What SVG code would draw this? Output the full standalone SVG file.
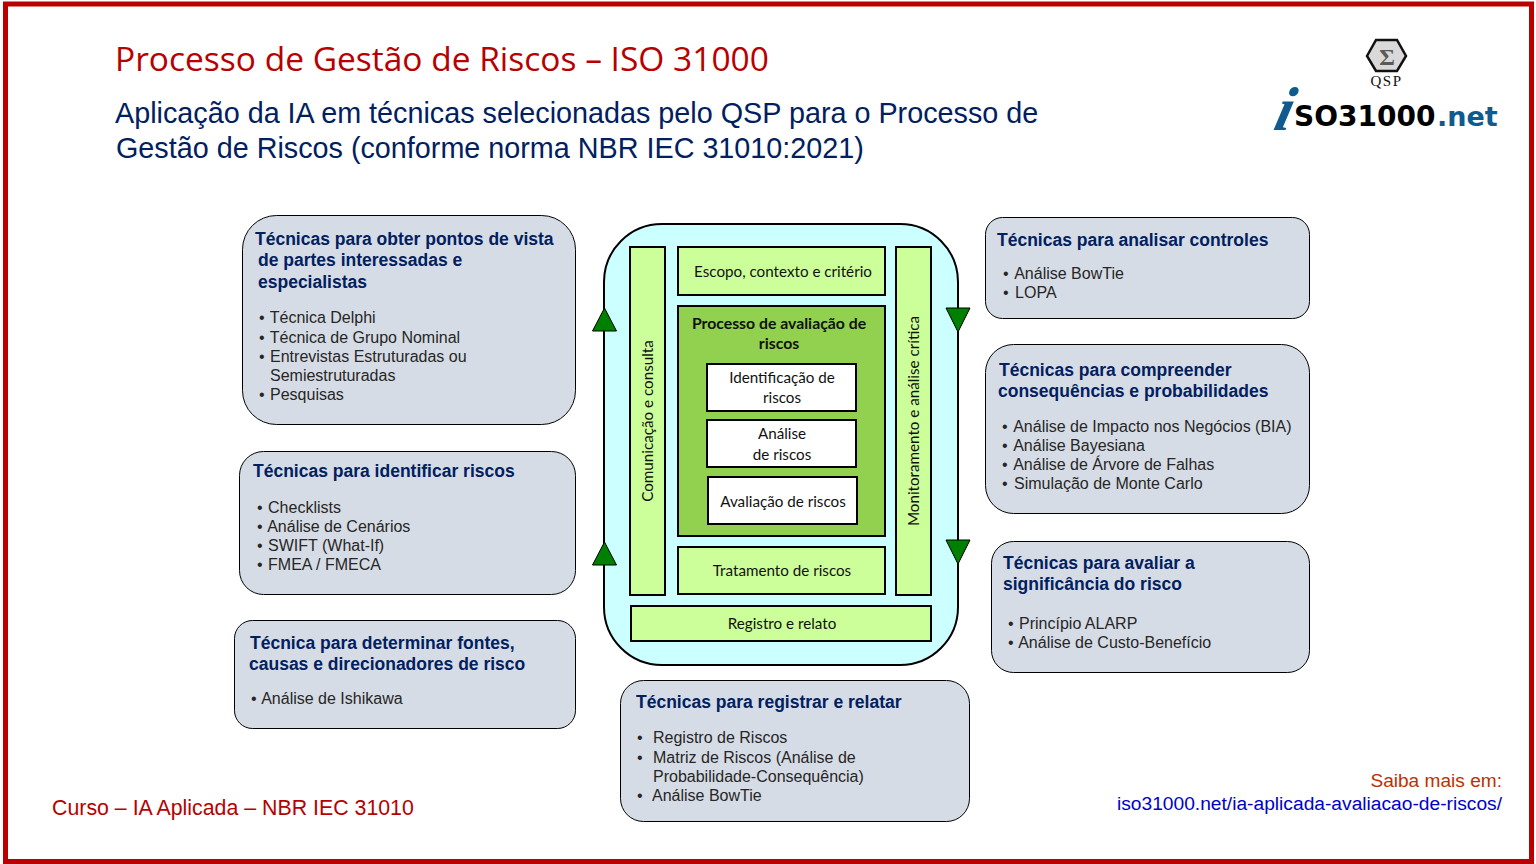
<svg xmlns="http://www.w3.org/2000/svg" width="1536" height="864" viewBox="0 0 1536 864">
<style>
text{font-family:"Liberation Sans",Arial,sans-serif}
.card{fill:#d6dce5;stroke:#000;stroke-width:1}
.h{font-size:17.500px;font-weight:700;fill:#002060}
.b{font-size:16px;fill:#262626}
.c{font-family:Lato,"Open Sans",sans-serif;font-size:15.200px;fill:#111;text-anchor:middle}
.g{fill:#ccff99;stroke:#000;stroke-width:2}
.w{fill:#fff;stroke:#000;stroke-width:2}
.tri{fill:#008000;stroke:#000;stroke-width:1}
</style>
<rect id="frame" x="5.500" y="4" width="1526" height="857.500" fill="#fff" stroke="#bb0000" stroke-width="5"/>
<g id="title">
<text x="115" y="71" font-size="33.500" fill="#b80000" style='font-family:"Open Sans",sans-serif'>Processo de Gestão de Riscos – ISO 31000</text>
<text x="115" y="123" font-size="28.750" fill="#002060">Aplicação da IA em técnicas selecionadas pelo QSP para o Processo de</text>
<text x="116" y="158" font-size="28.750" fill="#002060">Gestão de Riscos (conforme norma NBR IEC 31010:2021)</text>
</g>
<g id="logo">
<polygon points="1367,56 1376,40 1397,40 1406,56 1397,71 1376,71" fill="#d9d9d9" stroke="#111" stroke-width="2.500"/>
<text x="1387" y="65" font-size="24" font-weight="700" text-anchor="middle" fill="#595959" style='font-family:"Liberation Serif",serif'>Σ</text>
<text x="1386.500" y="86" font-size="15" text-anchor="middle" letter-spacing="1.500" fill="#111" style='font-family:"Liberation Serif",serif'>QSP</text>
<text transform="translate(1272 130) skewX(-14)" font-size="62" font-weight="700" font-style="italic" fill="#0f5a8f" style='font-family:"Liberation Serif",serif'>i</text>
<text x="1294" y="126" font-size="28" font-weight="700" fill="#000" style='font-family:"DejaVu Sans",sans-serif'>SO31000</text>
<text x="1437" y="126" font-size="27" font-weight="700" fill="#0f5a8f" style='font-family:"DejaVu Sans",sans-serif'>.net</text>
</g>
<g id="card-pontos-de-vista">
<rect class="card" x="242.500" y="215.500" width="333" height="209" rx="34"/>
<text class="h" x="255" y="244.500">Técnicas para obter pontos de vista</text>
<text class="h" x="258" y="265.500">de partes interessadas e</text>
<text class="h" x="258" y="287.500">especialistas</text>
<text class="b" x="259" y="323">• <tspan dx="1">Técnica Delphi</tspan></text>
<text class="b" x="259" y="343">• <tspan dx="1">Técnica de Grupo Nominal</tspan></text>
<text class="b" x="259" y="362">• <tspan dx="1">Entrevistas Estruturadas ou</tspan></text>
<text class="b" x="270" y="381">Semiestruturadas</text>
<text class="b" x="259" y="400">• <tspan dx="1">Pesquisas</tspan></text>
</g>
<g id="card-identificar">
<rect class="card" x="239.500" y="451.500" width="336" height="143" rx="24"/>
<text class="h" x="253" y="477">Técnicas para identificar riscos</text>
<text class="b" x="257" y="513">• <tspan dx="1">Checklists</tspan></text>
<text class="b" x="257" y="532">• <tspan dx="1">Análise de Cenários</tspan></text>
<text class="b" x="257" y="551">• <tspan dx="1">SWIFT (What-If)</tspan></text>
<text class="b" x="257" y="570">• <tspan dx="1">FMEA / FMECA</tspan></text>
</g>
<g id="card-fontes">
<rect class="card" x="234.500" y="620.500" width="341" height="108" rx="18"/>
<text class="h" x="250" y="649">Técnica para determinar fontes,</text>
<text class="h" x="249" y="670">causas e direcionadores de risco</text>
<text class="b" x="251" y="704">• <tspan dx="1">Análise de Ishikawa</tspan></text>
</g>
<g id="card-registrar">
<rect class="card" x="620.500" y="680.500" width="349" height="141" rx="23"/>
<text class="h" x="636" y="708">Técnicas para registrar e relatar</text>
<text class="b" x="637" y="743">•</text><text class="b" x="653" y="743">Registro de Riscos</text>
<text class="b" x="637" y="763">•</text><text class="b" x="653" y="763">Matriz de Riscos (Análise de</text>
<text class="b" x="653" y="782">Probabilidade-Consequência)</text>
<text class="b" x="637" y="801">•</text><text class="b" x="652" y="801">Análise BowTie</text>
</g>
<g id="card-controles">
<rect class="card" x="985.500" y="217.500" width="324" height="101" rx="17"/>
<text class="h" x="997" y="245.500">Técnicas para analisar controles</text>
<text class="b" x="1003" y="279">• <tspan dx="2">Análise BowTie</tspan></text>
<text class="b" x="1003" y="298">• <tspan dx="2">LOPA</tspan></text>
</g>
<g id="card-consequencias">
<rect class="card" x="985.500" y="344.500" width="324" height="169" rx="28"/>
<text class="h" x="999" y="376">Técnicas para compreender</text>
<text class="h" x="998" y="397">consequências e probabilidades</text>
<text class="b" x="1002" y="432">• <tspan dx="2">Análise de Impacto nos Negócios (BIA)</tspan></text>
<text class="b" x="1002" y="451">• <tspan dx="2">Análise Bayesiana</tspan></text>
<text class="b" x="1002" y="470">• <tspan dx="2">Análise de Árvore de Falhas</tspan></text>
<text class="b" x="1002" y="489">• <tspan dx="2">Simulação de Monte Carlo</tspan></text>
</g>
<g id="card-significancia">
<rect class="card" x="991.500" y="541.500" width="318" height="131" rx="22"/>
<text class="h" x="1003" y="569">Técnicas para avaliar a</text>
<text class="h" x="1003" y="590">significância do risco</text>
<text class="b" x="1008" y="629">• <tspan dx="1">Princípio ALARP</tspan></text>
<text class="b" x="1008" y="648">• <tspan dx="1">Análise de Custo-Benefício</tspan></text>
</g>
<g id="process">
<rect x="604" y="224" width="354" height="441" rx="58" fill="#ccffff" stroke="#000" stroke-width="2"/>
</g>
<g id="connectors">
<polygon class="tri" points="604.500,308 592.500,331 616.500,331"/>
<polygon class="tri" points="604.500,542 592.500,565 616.500,565"/>
<polygon class="tri" points="958,332 946,308 970,308"/>
<polygon class="tri" points="958,564 946,540 970,540"/>
</g>
<g id="node-comunicacao">
<rect class="g" x="630" y="247" width="35" height="348"/>
<text class="c" transform="translate(653 421) rotate(-90)">Comunicação e consulta</text>
</g>
<g id="node-monitoramento">
<rect class="g" x="896" y="247" width="35" height="348"/>
<text class="c" transform="translate(919 421) rotate(-90)">Monitoramento e análise crítica</text>
</g>
<g id="node-escopo">
<rect class="g" x="678" y="247" width="207" height="48"/>
<text class="c" x="783" y="277">Escopo, contexto e critério</text>
</g>
<g id="node-avaliacao-processo">
<rect x="678" y="306" width="207" height="230" fill="#92d050" stroke="#000" stroke-width="2"/>
<text class="c" x="779" y="329" font-weight="700" style="font-size:15.800px">Processo de avaliação de</text>
<text class="c" x="779" y="349" font-weight="700" style="font-size:15.800px">riscos</text>
</g>
<g id="node-identificacao">
<rect class="w" x="707" y="364" width="149" height="47"/>
<text class="c" x="782" y="383">Identificação de</text>
<text class="c" x="782" y="403">riscos</text>
</g>
<g id="node-analise">
<rect class="w" x="707" y="420" width="149" height="47"/>
<text class="c" x="782" y="439">Análise</text>
<text class="c" x="782" y="460">de riscos</text>
</g>
<g id="node-avaliacao">
<rect class="w" x="708" y="477" width="149" height="47"/>
<text class="c" x="783" y="507">Avaliação de riscos</text>
</g>
<g id="node-tratamento">
<rect class="g" x="678" y="547" width="207" height="47"/>
<text class="c" x="782" y="576">Tratamento de riscos</text>
</g>
<g id="node-registro">
<rect class="g" x="631" y="606" width="300" height="35"/>
<text class="c" x="782" y="629">Registro e relato</text>
</g>
<g id="footer">
<text x="52" y="815" font-size="21.350" fill="#b80000">Curso – IA Aplicada – NBR IEC 31010</text>
<text x="1502" y="787" font-size="19.100" fill="#c03000" text-anchor="end">Saiba mais em:</text>
<text x="1502" y="810" font-size="19.200" fill="#0000cc" text-anchor="end">iso31000.net/ia-aplicada-avaliacao-de-riscos/</text>
</g>
</svg>
